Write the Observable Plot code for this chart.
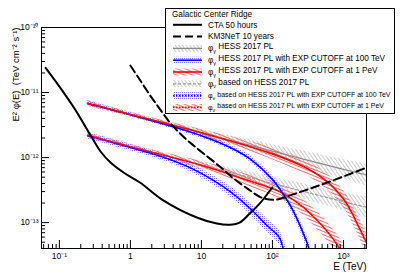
<!DOCTYPE html>
<html><head><meta charset="utf-8">
<script src="https://cdn.jsdelivr.net/npm/d3@7"></script>
<script src="https://cdn.jsdelivr.net/npm/@observablehq/plot@0.6"></script>
<style>body{margin:0;background:#fff}#chart{width:407px;height:276px}</style>
</head><body><div id="chart"></div>
<script>
// ---- tick labels ----
const xTickValues = [0.1, 1, 10, 100, 1000];
const xTickLabels = ["10\u207B\u00B9", "1", "10", "10\u00B2", "10\u00B3"];
const yTickValues = [1e-13, 1e-12, 1e-11, 1e-10];
const yTickLabels = ["10\u207B\u00B9\u00B3", "10\u207B\u00B9\u00B2", "10\u207B\u00B9\u00B9", "10\u207B\u00B9\u2070"];

// ---- CTA 50 hours ----
const ctaE    = [0.064, 0.105, 0.17, 0.276, 0.38, 0.525, 0.8, 1.38, 2.9, 8.6, 16.5, 25, 34.5, 47.8, 66, 100];
const ctaFlux = [2.4e-11, 1.15e-11, 5.3e-12, 2.18e-12, 1.24e-12, 8.4e-13, 5.9e-13, 4.1e-13, 2.2e-13, 1.2e-13, 9.7e-14, 9.3e-14, 1.0e-13, 1.38e-13, 1.96e-13, 3.5e-13];

// ---- KM3NeT 10 years ----
const km3E    = [1, 1.38, 1.9, 2.63, 3.6, 5.0, 6.9, 9.5, 18.1, 27.6, 45, 72, 114, 172, 330, 690, 2100];
const km3Flux = [2.6e-11, 1.53e-11, 9.0e-12, 5.47e-12, 3.45e-12, 2.34e-12, 1.7e-12, 1.28e-12, 7.3e-13, 4.9e-13, 3.3e-13, 2.4e-13, 2.26e-13, 2.6e-13, 3.3e-13, 4.4e-13, 7.0e-13];

// ---- gamma, HESS 2017 PL ----
const gPlE     = [0.25, 1, 10, 100, 1000, 2100];
const gPlFlux  = [6.8e-12, 4.6e-12, 2.4e-12, 1.26e-12, 6.6e-13, 5.4e-13];
const gPlErr   = [0.05, 0.04, 0.05, 0.10, 0.15, 0.17];

// ---- gamma, PL with cutoff at 100 TeV ----
const g100E    = [0.25, 1, 10, 30, 50, 100, 150, 200, 300, 400];
const g100Flux = [6.8e-12, 4.55e-12, 2.17e-12, 1.31e-12, 9.3e-13, 4.6e-13, 2.5e-13, 1.45e-13, 5.2e-14, 2.0e-14];
const g100Err  = [0.04, 0.03, 0.04, 0.04, 0.05, 0.05, 0.06, 0.07, 0.09, 0.10];

// ---- gamma, PL with cutoff at 1 PeV ----
const g1PE     = [0.25, 1, 10, 100, 300, 600, 1000, 1300, 1650, 2100];
const g1PFlux  = [6.8e-12, 4.6e-12, 2.4e-12, 1.14e-12, 6.9e-13, 4.2e-13, 2.3e-13, 1.45e-13, 8.5e-14, 5.0e-14];
const g1PErr   = [0.04, 0.03, 0.05, 0.09, 0.11, 0.12, 0.13, 0.14, 0.15, 0.17];

// ---- neutrino, based on HESS 2017 PL ----
const nPlE     = [0.25, 1, 10, 100, 1000, 2100];
const nPlFlux  = [2.2e-12, 1.48e-12, 7.7e-13, 4.0e-13, 2.1e-13, 1.72e-13];
const nPlErr   = [0.05, 0.04, 0.05, 0.10, 0.14, 0.16];

// ---- neutrino, cutoff 100 TeV ----
const n100E    = [0.25, 1, 3, 6.9, 15, 27.6, 50, 80, 125, 140, 170];
const n100Flux = [2.17e-12, 1.43e-12, 1.0e-12, 7.0e-13, 4.4e-13, 2.8e-13, 1.6e-13, 9.5e-14, 5.9e-14, 4.2e-14, 2.5e-14];
const n100Err  = [0.05, 0.05, 0.05, 0.06, 0.07, 0.08, 0.09, 0.10, 0.11, 0.12, 0.13];

// ---- neutrino, cutoff 1 PeV ----
const n1PE     = [0.25, 1, 10, 50, 125, 250, 360, 500, 690, 870, 1100];
const n1PFlux  = [2.2e-12, 1.47e-12, 7.6e-13, 4.3e-13, 3.0e-13, 1.85e-13, 1.3e-13, 9.0e-14, 5.9e-14, 4.1e-14, 2.6e-14];
const n1PErr   = [0.04, 0.03, 0.06, 0.09, 0.11, 0.12, 0.13, 0.14, 0.15, 0.16, 0.17];

// ---- legend ----
const legendTitle = "Galactic Center Ridge";
const legendItems = [
  {key: "cta", phi: null, text: "CTA 50 hours"},
  {key: "km3", phi: null, text: "KM3NeT 10 years"},
  {key: "gPl", phi: "\u03B3", text: " HESS 2017 PL"},
  {key: "g100", phi: "\u03B3", text: " HESS 2017 PL with EXP CUTOFF at 100 TeV"},
  {key: "g1P", phi: "\u03B3", text: " HESS 2017 PL with EXP CUTOFF at 1 PeV"},
  {key: "nPl", phi: "\u03BD", text: " based on HESS 2017 PL"},
  {key: "n100", phi: "\u03BD", text: " based on HESS 2017 PL with EXP CUTOFF at 100 TeV"},
  {key: "n1P", phi: "\u03BD", text: " based on HESS 2017 PL with EXP CUTOFF at 1 PeV"}
];

const rows = (E, F, W) => E.map((e, i) => ({E: e, f: F[i], lo: W ? F[i] / Math.pow(10, W[i]) : null, hi: W ? F[i] * Math.pow(10, W[i]) : null}));
const cta = rows(ctaE, ctaFlux), km3 = rows(km3E, km3Flux);
const gPl = rows(gPlE, gPlFlux, gPlErr), g100 = rows(g100E, g100Flux, g100Err), g1P = rows(g1PE, g1PFlux, g1PErr);
const nPl = rows(nPlE, nPlFlux, nPlErr), n100 = rows(n100E, n100Flux, n100Err), n1P = rows(n1PE, n1PFlux, n1PErr);

const style = {
  gPl:  {band: "url(#hGray)", stroke: "#8c8c8c", width: 1.3, dash: null},
  g100: {band: "url(#hBlue)", stroke: "#0000ff", width: 1.6, dash: null},
  g1P:  {band: "url(#hRed)",  stroke: "#ff0000", width: 1.6, dash: null},
  nPl:  {band: "url(#hGray)", stroke: "#9a9a9a", width: 1.2, dash: "3,2"},
  n100: {band: "url(#hBlue)", stroke: "#0000ff", width: 1.6, dash: "1.5,1.5"},
  n1P:  {band: "url(#hRed)",  stroke: "#ff0000", width: 1.6, dash: "1.5,1.5"},
  cta:  {stroke: "#000", width: 2, dash: null},
  km3:  {stroke: "#000", width: 2, dash: "8,4"}
};

const band = (d, k) => Plot.areaY(d, {x: "E", y1: "lo", y2: "hi", fill: style[k].band, curve: "catmull-rom", clip: true});
const line = (d, k) => Plot.line(d, {x: "E", y: "f", stroke: style[k].stroke, strokeWidth: style[k].width, strokeDasharray: style[k].dash, curve: "catmull-rom", clip: true});

const xMinor = [], yMinor = [];
for (let p = -2; p <= 3; p++) for (let m = 2; m <= 9; m++) { const v = m * Math.pow(10, p); if (v > 0.056 && v < 2110) xMinor.push(v); }
for (let p = -14; p <= -11; p++) for (let m = 2; m <= 9; m++) { const v = m * Math.pow(10, p); if (v > 4e-14 && v < 1e-10) yMinor.push(v); }

const chart = Plot.plot({
  width: 407, height: 276,
  marginLeft: 41, marginRight: 41, marginTop: 27, marginBottom: 28,
  style: {fontFamily: "'Liberation Sans', Arial, sans-serif", background: "#fff"},
  x: {type: "log", domain: [0.056, 2110]},
  y: {type: "log", domain: [4e-14, 1e-10]},
  marks: [
    band(nPl, "nPl"), band(n100, "n100"), band(n1P, "n1P"),
    band(gPl, "gPl"), band(g100, "g100"), band(g1P, "g1P"),
    line(nPl, "nPl"), line(n100, "n100"), line(n1P, "n1P"),
    line(gPl, "gPl"), line(g100, "g100"), line(g1P, "g1P"),
    line(cta, "cta"), line(km3, "km3"),
    Plot.frame({stroke: "#000", strokeWidth: 1}),
    Plot.axisX({ticks: xTickValues, tickSize: 8, dy: -8, tickFormat: () => "", label: null, strokeWidth: 1}),
    Plot.axisX({ticks: xMinor, tickSize: 4, dy: -4, tickFormat: () => "", label: null, strokeWidth: 1}),
    Plot.axisX({ticks: xTickValues, tickSize: 0, tickPadding: 4, tickFormat: d => xTickLabels[xTickValues.indexOf(d)], fontSize: 8.5, label: null}),
    Plot.axisY({ticks: yTickValues, tickSize: 8, dx: 8, tickFormat: () => "", label: null, strokeWidth: 1}),
    Plot.axisY({ticks: yMinor, tickSize: 4, dx: 4, tickFormat: () => "", label: null, strokeWidth: 1}),
    Plot.axisY({ticks: yTickValues, tickSize: 0, tickPadding: 3, tickFormat: d => yTickLabels[yTickValues.indexOf(d)], fontSize: 8.5, label: null}),
    Plot.text(["E\u00B2 \u03C6(E)  (TeV cm\u207B\u00B2 s\u207B\u00B9)"], {frameAnchor: "top-left", text: d => d, rotate: -90, textAnchor: "end", dx: -29, fontSize: 9.5}),
    Plot.text(["E (TeV)"], {frameAnchor: "bottom-right", text: d => d, textAnchor: "end", dy: 21.5, fontSize: 10})
  ]
});

const svg = d3.select(chart);
const defs = svg.insert("defs", ":first-child");
const pg = defs.append("pattern").attr("id", "hGray").attr("patternUnits", "userSpaceOnUse").attr("width", 3).attr("height", 3).attr("patternTransform", "rotate(-35)");
pg.append("line").attr("x1", 0.5).attr("x2", 0.5).attr("y1", 0).attr("y2", 3).attr("stroke", "#c4c4c4").attr("stroke-width", 0.9);
const pr = defs.append("pattern").attr("id", "hRed").attr("patternUnits", "userSpaceOnUse").attr("width", 3).attr("height", 3).attr("patternTransform", "rotate(22)");
pr.append("line").attr("x1", 0).attr("x2", 3).attr("y1", 0.5).attr("y2", 0.5).attr("stroke", "#ff5a5a").attr("stroke-width", 0.9);
const pb = defs.append("pattern").attr("id", "hBlue").attr("patternUnits", "userSpaceOnUse").attr("width", 2).attr("height", 2);
pb.append("rect").attr("x", 0).attr("y", 0).attr("width", 1).attr("height", 1).attr("fill", "#7c7cff");

// legend (the two longest entries use a smaller size so they fit the box, as in the original)
const fs = 8.2;
const smaller = {n100: 7.0, n1P: 7.0};
const lg = svg.append("g").attr("font-family", "'Liberation Sans', Arial, sans-serif").attr("text-anchor", "start").attr("fill", "#000");
lg.append("rect").attr("x", 165.5).attr("y", 8.5).attr("width", 229).attr("height", 105).attr("fill", "#fff").attr("stroke", "#000").attr("stroke-width", 1);
lg.append("text").attr("x", 172).attr("y", 14).attr("dy", "0.35em").attr("font-size", fs).attr("text-anchor", "start").attr("fill", "#000").text(legendTitle);
legendItems.forEach((it, i) => {
  const cy = 24.8 + i * 11.8;
  const st = style[it.key];
  if (st.band) lg.append("rect").attr("x", 173).attr("y", cy - 3.5).attr("width", 29).attr("height", 7).attr("fill", st.band);
  lg.append("line").attr("x1", 173).attr("x2", 202).attr("y1", cy).attr("y2", cy).attr("stroke", st.stroke).attr("stroke-width", st.width).attr("stroke-dasharray", st.dash);
  const t = lg.append("text").attr("x", 208).attr("y", cy).attr("dy", "0.35em").attr("font-size", smaller[it.key] || fs).attr("text-anchor", "start").attr("fill", "#000");
  if (it.phi) {
    t.append("tspan").text("\u03C6");
    t.append("tspan").attr("font-size", 5.5).attr("dy", "0.3em").text(it.phi);
    t.append("tspan").attr("dy", "-0.45em").text(it.text);
  } else t.text(it.text);
});

document.getElementById("chart").appendChild(chart);
</script>
</body></html>
